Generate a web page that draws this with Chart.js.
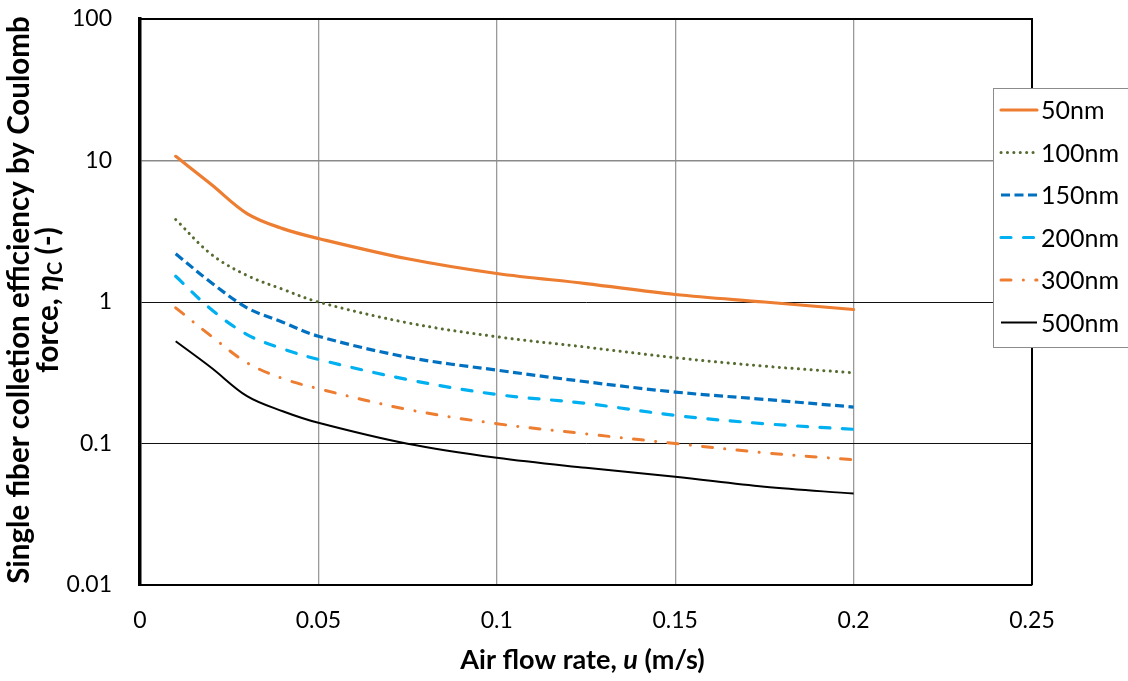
<!DOCTYPE html>
<html>
<head>
<meta charset="utf-8">
<script src="https://cdn.jsdelivr.net/npm/chart.js@4/dist/chart.umd.min.js"></script>
<style>
html,body{margin:0;padding:0;background:#fff;}
#wrap{width:1128px;height:681px;position:relative;}
</style>
</head>
<body>
<div id="wrap"><canvas id="c" width="1128" height="681"></canvas></div>
<script>
// ---- data ----
const airFlow = [0.01, 0.02, 0.03, 0.04, 0.05, 0.075, 0.1, 0.125, 0.15, 0.175, 0.2];
const eff50  = [10.7, 6.77, 4.22, 3.3, 2.81, 2.02, 1.59, 1.35, 1.13, 1.0, 0.885];
const eff100 = [3.83, 2.17, 1.54, 1.23, 1.0, 0.713, 0.568, 0.48, 0.404, 0.352, 0.316];
const eff150 = [2.19, 1.37, 0.91, 0.72, 0.573, 0.407, 0.33, 0.273, 0.231, 0.205, 0.181];
const eff200 = [1.52, 0.885, 0.589, 0.467, 0.393, 0.283, 0.222, 0.192, 0.158, 0.138, 0.126];
const eff300 = [0.91, 0.573, 0.372, 0.288, 0.244, 0.174, 0.138, 0.117, 0.1, 0.086, 0.0767];
const eff500 = [0.528, 0.343, 0.216, 0.169, 0.14, 0.0995, 0.0792, 0.0673, 0.0582, 0.0494, 0.0443];
const seriesLabels = ['50nm', '100nm', '150nm', '200nm', '300nm', '500nm'];
const xTickValues = [0, 0.05, 0.1, 0.15, 0.2, 0.25];
const xTickLabels = ['0', '0.05', '0.1', '0.15', '0.2', '0.25'];
const yTickValues = [0.01, 0.1, 1, 10, 100];
const yTickLabels = ['0.01', '0.1', '1', '10', '100'];

const FONT = 'Lato, "Liberation Sans", sans-serif';

function pts(ys){ return airFlow.map((x,i)=>({x:x, y:ys[i]})); }

const styles = [
  {color:'#ED7D31', width:3.2, dash:[], cap:'round'},
  {color:'#556B2F', width:3, dash:[0.1, 6.3], cap:'round'},
  {color:'#0070C0', width:3.2, dash:[9, 4.5], cap:'butt'},
  {color:'#00B0F0', width:3.2, dash:[10, 12.5], cap:'round'},
  {color:'#ED7D31', width:3, dash:[10, 12.3, 0.1, 12.3], cap:'round'},
  {color:'#000000', width:2, dash:[], cap:'butt'}
];
const allData = [eff50, eff100, eff150, eff200, eff300, eff500];

const datasets = allData.map((d,i)=>({
  label: seriesLabels[i],
  data: pts(d),
  showLine: true,
  borderColor: styles[i].color,
  backgroundColor: styles[i].color,
  borderWidth: styles[i].width,
  borderDash: styles[i].dash,
  borderCapStyle: styles[i].cap,
  borderJoinStyle: 'round',
  pointRadius: 0,
  pointHoverRadius: 0,
  tension: 0.35,
  fill: false
}));

const frame = {
  id:'frame',
  beforeDatasetsDraw(chart){
    const a = chart.chartArea, ctx = chart.ctx;
    ctx.save();
    ctx.strokeStyle = '#000';
    ctx.lineWidth = 2;
    ctx.beginPath();
    ctx.moveTo(a.left, a.top); ctx.lineTo(a.right, a.top); ctx.lineTo(a.right, a.bottom);
    ctx.stroke();
    ctx.restore();
  }
};

function fitFont(ctx, text, weight, target){
  ctx.font = weight + ' 20px ' + FONT;
  const w = ctx.measureText(text).width;
  return 20 * target / w;
}

const decor = {
  id:'decor',
  afterDraw(chart){
    const ctx = chart.ctx;
    // legend
    ctx.save();
    ctx.fillStyle = '#fff';
    ctx.fillRect(993, 88, 140, 259);
    ctx.strokeStyle = '#8c8c8c';
    ctx.lineWidth = 1;
    ctx.strokeRect(993.5, 88.5, 140, 259);
    const rows = [110, 152.5, 195, 237.5, 280, 322.5];
    chart.data.datasets.forEach((ds,i)=>{
      const y = rows[i];
      ctx.save();
      ctx.strokeStyle = ds.borderColor;
      ctx.lineWidth = ds.borderWidth;
      ctx.setLineDash(ds.borderDash);
      ctx.lineCap = ds.borderCapStyle;
      ctx.beginPath();
      ctx.moveTo(1001, y); ctx.lineTo(1037, y);
      ctx.stroke();
      ctx.restore();
      ctx.fillStyle = '#000';
      ctx.font = '25px ' + FONT;
      ctx.textAlign = 'left';
      ctx.textBaseline = 'middle';
      ctx.fillText(ds.label, 1041, y + 1);
    });
    ctx.restore();

    // x title
    ctx.save();
    ctx.fillStyle = '#000';
    ctx.textBaseline = 'alphabetic';
    const xs = [{t:'Air flow rate, ', f:'bold'}, {t:'u', f:'italic bold'}, {t:' (m/s)', f:'bold'}];
    const xSize = fitFont(ctx, 'Air flow rate, u (m/s)', 'bold', 245);
    let tw = 0;
    xs.forEach(s=>{ ctx.font = s.f + ' ' + xSize + 'px ' + FONT; s.w = ctx.measureText(s.t).width; tw += s.w; });
    let x = 582.5 - tw/2;
    xs.forEach(s=>{ ctx.font = s.f + ' ' + xSize + 'px ' + FONT; ctx.fillText(s.t, x, 669); x += s.w; });
    ctx.restore();

    // y title (rotated)
    ctx.save();
    ctx.fillStyle = '#000';
    ctx.textBaseline = 'alphabetic';
    const l1 = 'Single fiber colletion efficiency by Coulomb';
    const ySize = fitFont(ctx, l1, 'bold', 568);
    ctx.translate(29, 300);
    ctx.rotate(-Math.PI/2);
    ctx.font = 'bold ' + ySize + 'px ' + FONT;
    ctx.textAlign = 'center';
    ctx.fillText(l1, 0, 0);
    ctx.restore();

    ctx.save();
    ctx.fillStyle = '#000';
    ctx.textBaseline = 'alphabetic';
    ctx.translate(58, 300);
    ctx.rotate(-Math.PI/2);
    const segs = [
      {t:'force, ', f:'bold', s:ySize, dy:0},
      {t:'\u03B7', f:'italic bold', s:ySize, dy:0},
      {t:'C', f:'bold', s:ySize*0.68, dy:4},
      {t:' (-)', f:'bold', s:ySize, dy:0}
    ];
    let tot = 0;
    segs.forEach(s=>{ ctx.font = s.f + ' ' + s.s + 'px ' + FONT; s.w = ctx.measureText(s.t).width; tot += s.w; });
    let px = -tot/2;
    ctx.textAlign = 'left';
    segs.forEach(s=>{ ctx.font = s.f + ' ' + s.s + 'px ' + FONT; ctx.fillText(s.t, px, s.dy); px += s.w; });
    ctx.restore();
  }
};

new Chart(document.getElementById('c'), {
  type: 'scatter',
  data: { datasets },
  plugins: [frame, decor],
  options: {
    responsive: false,
    animation: false,
    devicePixelRatio: 1,
    layout: { padding: { left: 0, top: 19, right: 96, bottom: 0 } },
    plugins: { legend: { display: false }, tooltip: { enabled: false } },
    scales: {
      x: {
        type: 'linear',
        min: 0, max: 0.25,
        afterFit(s){ s.height = 96; s.paddingLeft = 0; s.paddingRight = 0; },
        afterBuildTicks(s){ s.ticks = xTickValues.map(v=>({value:v})); },
        ticks: {
          font: { family: FONT, size: 23 },
          color: '#000',
          padding: 22,
          maxRotation: 0,
          callback(v){ const i = xTickValues.findIndex(t=>Math.abs(t-v)<1e-9); return i>=0 ? xTickLabels[i] : ''; }
        },
        grid: { color: '#9a9a9a', lineWidth: 1.3, drawTicks: false },
        border: { color: '#000', width: 2 }
      },
      y: {
        type: 'logarithmic',
        min: 0.01, max: 100,
        afterFit(s){ s.width = 140; s.paddingTop = 0; s.paddingBottom = 0; },
        afterBuildTicks(s){ s.ticks = yTickValues.map(v=>({value:v, major:true})); },
        ticks: {
          font: { family: FONT, size: 23 },
          color: '#000',
          padding: 28,
          autoSkip: false,
          callback(v){ const i = yTickValues.findIndex(t=>Math.abs(t-v)/t<1e-6); return i>=0 ? yTickLabels[i] : ''; }
        },
        grid: {
          drawTicks: false,
          color(c){ return (c.tick && c.tick.value === 10) ? '#8a8a8a' : '#111'; },
          lineWidth(c){ return (c.tick && c.tick.value === 10) ? 1.5 : 1; }
        },
        border: { color: '#000', width: 3.5 }
      }
    }
  }
});
</script>
</body>
</html>
